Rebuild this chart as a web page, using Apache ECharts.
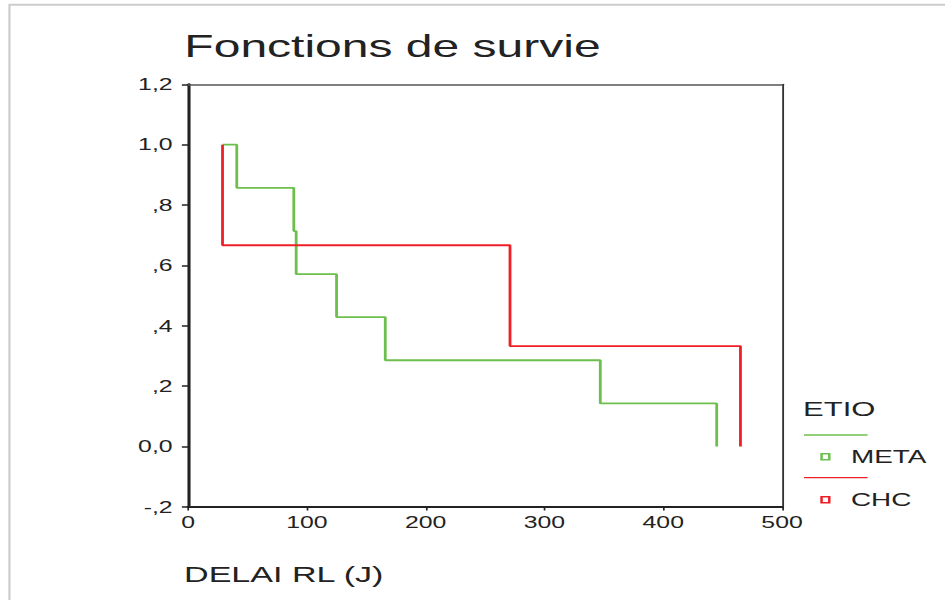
<!DOCTYPE html>
<html>
<head>
<meta charset="utf-8">
<script src="https://cdn.jsdelivr.net/npm/echarts@6/dist/echarts.min.js"></script>
<style>
html,body{margin:0;padding:0;background:#fff;overflow:hidden;width:945px;height:600px;}
#chart{width:610px;height:600px;transform:scaleX(1.5492);transform-origin:0 0;}
</style>
</head>
<body>
<div id="chart"></div>
<script>
// ---- data ----
const titleText = 'Fonctions de survie';
const xAxisTitle = 'DELAI RL (J)';
const legendTitle = 'ETIO';
const seriesNames = ['META', 'CHC'];
const seriesColors = ['#6cbf4c', '#ee1f26'];
const startTime = 29;
const metaTimes = [41, 89, 91, 125, 166, 347, 445];
const metaSurv = [0.857, 0.714, 0.571, 0.429, 0.286, 0.143, 0];
const chcTimes = [29, 271, 465];
const chcSurv = [0.667, 0.333, 0];
const xTickLabels = ['0', '100', '200', '300', '400', '500'];
const yTickLabels = ['-,2', '0,0', ',2', ',4', ',6', ',8', '1,0', '1,2'];

function buildSteps(times, surv) {
  const d = [[startTime, 1]];
  times.forEach((t, i) => d.push([t, surv[i]]));
  return d;
}

const chart = echarts.init(document.getElementById('chart'), null, {renderer: 'svg'});
const font = 'Liberation Sans, Arial, sans-serif';

const option = {
  animation: false,
  backgroundColor: '#fff',
  title: {
    text: titleText,
    left: 114,
    top: 26,
    textStyle: {fontFamily: font, fontSize: 31, fontWeight: 'normal', color: '#222'}
  },
  grid: {left: 121.4, top: 84.3, width: 383.4, height: 422.7, containLabel: false},
  xAxis: [{
    type: 'value', min: 0, max: 500, interval: 100,
    axisLine: {show: true, onZero: false, lineStyle: {color: '#222', width: 2}},
    axisTick: {show: true, length: 3.5, lineStyle: {color: '#222', width: 1.1}},
    axisLabel: {
      margin: 7, color: '#222', fontFamily: font, fontSize: 16,
      formatter: v => xTickLabels[Math.round(v / 100)]
    },
    splitLine: {show: false}
  }, {
    type: 'value', min: 0, max: 500, position: 'top',
    axisLine: {show: true, onZero: false, lineStyle: {color: '#555', width: 1.5}},
    axisTick: {show: false}, axisLabel: {show: false}, splitLine: {show: false}
  }],
  yAxis: [{
    type: 'value', min: -0.2, max: 1.2, interval: 0.2,
    axisLine: {show: true, onZero: false, lineStyle: {color: '#222', width: 2}},
    axisTick: {show: true, length: 4, lineStyle: {color: '#222', width: 1.5}},
    axisLabel: {
      margin: 10, color: '#222', fontFamily: font, fontSize: 16,
      formatter: v => yTickLabels[Math.round((v + 0.2) / 0.2)]
    },
    splitLine: {show: false}
  }, {
    type: 'value', min: -0.2, max: 1.2, position: 'right',
    axisLine: {show: true, onZero: false, lineStyle: {color: '#333', width: 1.2}},
    axisTick: {show: false}, axisLabel: {show: false}, splitLine: {show: false}
  }],
  legend: {
    orient: 'vertical',
    left: 524.5, top: 441.7,
    itemWidth: 5, itemHeight: 6, itemGap: 23,
    icon: 'rect',
    textStyle: {fontFamily: font, fontSize: 18, color: '#222', lineHeight: 20, padding: [0, 0, 0, 9]},
    data: seriesNames.map((n, i) => ({
      name: n,
      itemStyle: {color: '#fff', borderColor: seriesColors[i], borderWidth: 1.6}
    }))
  },
  series: [
    {
      name: seriesNames[0], type: 'line', step: 'end', showSymbol: false,
      data: buildSteps(metaTimes, metaSurv),
      itemStyle: {color: seriesColors[0]},
      lineStyle: {color: seriesColors[0], width: 1.8}
    },
    {
      name: seriesNames[1], type: 'line', step: 'end', showSymbol: false,
      data: buildSteps(chcTimes, chcSurv),
      itemStyle: {color: seriesColors[1]},
      lineStyle: {color: seriesColors[1], width: 1.8}
    }
  ],
  graphic: [
    {type: 'line', shape: {x1: 6.1, y1: 4.7, x2: 610, y2: 4.7}, style: {stroke: '#cccccc', lineWidth: 2}},
    {type: 'line', shape: {x1: 6.1, y1: 4, x2: 6.1, y2: 600}, style: {stroke: '#cccccc', lineWidth: 1.4}},
    {type: 'text', x: 118.8, y: 563, style: {text: xAxisTitle, font: '22px ' + font, fill: '#222', textVerticalAlign: 'top'}},
    {type: 'text', x: 518.4, y: 399, style: {text: legendTitle, font: '20px ' + font, fill: '#222', textVerticalAlign: 'top'}},
    {type: 'line', shape: {x1: 519, y1: 435, x2: 560, y2: 435}, style: {stroke: seriesColors[0], lineWidth: 1.3}},
    {type: 'line', shape: {x1: 519, y1: 477.7, x2: 560, y2: 477.7}, style: {stroke: seriesColors[1], lineWidth: 1.3}}
  ]
};
chart.setOption(option);
</script>
</body>
</html>
